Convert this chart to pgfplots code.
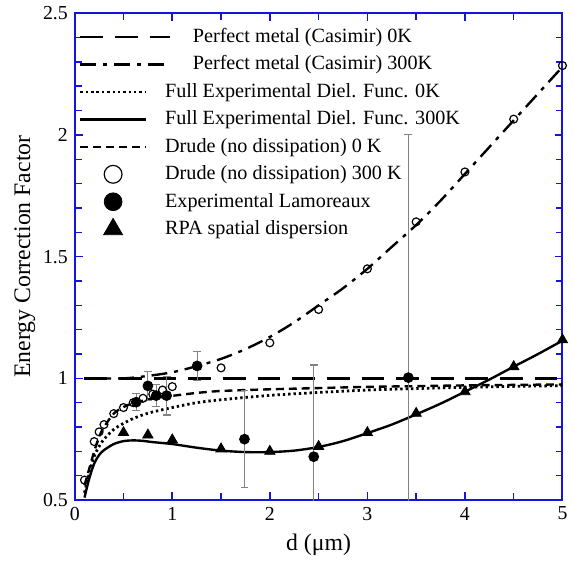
\documentclass[border={4pt 0pt 0pt 0pt}]{standalone}
\usepackage{fontspec}
\setmainfont{Liberation Serif}
\usepackage{pgfplots}
\pgfplotsset{compat=1.18}
\definecolor{axblue}{RGB}{20,20,220}
\definecolor{ebgray}{RGB}{130,130,130}

\pgfplotsset{
  shortline/.style={legend image code/.code={\draw[draw=none] (0pt,0pt) -- (41pt,0pt);\draw[##1] (0pt,0pt) -- (33pt,0pt);}},
  longline/.style={legend image code/.code={\draw[draw=none] (0pt,0pt) -- (41pt,0pt);\draw[##1,overlay] (0pt,0pt) -- (45pt,0pt);}},
  markimg/.style={legend image code/.code={\draw[draw=none] (0pt,0pt) -- (41pt,0pt);\draw[##1,only marks,mark size=#1] plot coordinates {(16.5pt,0pt)};}},
}

\begin{document}
\begin{tikzpicture}
\begin{axis}[
  scale only axis, width=246.5pt, height=246pt,
  xmin=0, xmax=5, ymin=0.5, ymax=2.5,
  xtick={0,1,2,3,4,5}, ytick={0.5,1,1.5,2,2.5},
  minor x tick num=1, minor y tick num=4,
  tick align=inside, tick pos=both,
  axis line style={axblue, line width=1pt},
  every tick/.style={axblue, line width=0.8pt},
  major tick length=4pt, minor tick length=3.5pt,
  /pgf/number format/assume math mode=true,
  tick label style={font=\fontsize{10}{12}\selectfont},
  xlabel={d (μm)}, ylabel={Energy Correction Factor},
  label style={font=\fontsize{12}{14}\selectfont},
  ylabel style={yshift=-3pt},
  legend style={at={(0,1)}, anchor=north west, yshift=-1.5pt, draw=none, fill=none,
    inner xsep=2pt, inner ysep=4pt, row sep=1.7pt,
    font=\fontsize{10.2}{12}\selectfont,
    nodes={inner sep=1.8pt}},
  legend cell align=left,
]
% Perfect metal (Casimir) 0K
\addplot[black, line width=1.2pt, dash pattern=on 11.5pt off 6pt, longline] coordinates {(0.1,1) (5,1)};
\addlegendentry{\hspace{14pt}Perfect metal (Casimir) 0K}
% Perfect metal (Casimir) 300K
\addplot[black, line width=1.2pt, dash pattern=on 8pt off 3.5pt on 2pt off 3.5pt, smooth, longline] coordinates {
(0.1,1.0) (0.5,1.0) (0.75,1.01) (1.0,1.025) (1.25,1.05) (1.5,1.08) (1.75,1.12) (2.0,1.17) (2.25,1.23) (2.5,1.30) (2.75,1.37) (3.0,1.45) (3.25,1.54) (3.5,1.63) (3.75,1.73) (4.0,1.84) (4.25,1.95) (4.5,2.06) (4.75,2.17) (5.0,2.28)};
\addlegendentry{\hspace{14pt}Perfect metal (Casimir) 300K}
% Full Experimental 0K
\addplot[black, line width=1.4pt, dash pattern=on 1.2pt off 1.5pt, smooth, shortline] coordinates {
(0.1,0.53) (0.15,0.61) (0.2,0.68) (0.25,0.72) (0.3,0.75) (0.4,0.79) (0.5,0.815) (0.6,0.835) (0.7,0.85) (0.8,0.862) (1.0,0.88) (1.25,0.9) (1.5,0.912) (2.0,0.93) (2.5,0.942) (3.0,0.952) (3.5,0.958) (4.0,0.963) (4.5,0.967) (5.0,0.97)};
\addlegendentry{Full Experimental Diel. Func. 0K}
% Full Experimental 300K
\addplot[black, line width=1.2pt, solid, smooth, shortline] coordinates {
(0.1,0.51) (0.15,0.59) (0.2,0.65) (0.25,0.685) (0.3,0.705) (0.4,0.73) (0.5,0.742) (0.6,0.745) (0.7,0.743) (0.8,0.738) (1.0,0.73) (1.25,0.715) (1.5,0.703) (1.75,0.697) (2.0,0.697) (2.25,0.703) (2.5,0.718) (2.75,0.742) (3.0,0.775) (3.25,0.81) (3.5,0.852) (3.75,0.896) (4.0,0.945) (4.25,0.995) (4.5,1.048) (4.75,1.1) (5.0,1.155)};
\addlegendentry{Full Experimental Diel. Func. 300K}
% Drude 0K
\addplot[black, line width=1.2pt, dash pattern=on 4pt off 2.5pt, smooth, shortline] coordinates {
(0.1,0.56) (0.15,0.63) (0.2,0.70) (0.25,0.76) (0.3,0.80) (0.4,0.855) (0.5,0.882) (0.6,0.898) (0.7,0.908) (0.8,0.917) (1.0,0.928) (1.25,0.94) (1.5,0.948) (2.0,0.955) (2.5,0.96) (3.0,0.965) (3.5,0.968) (4.0,0.971) (4.5,0.973) (5.0,0.975)};
\addlegendentry{Drude (no dissipation) 0 K}
% Drude 300K
\addplot[only marks, mark=o, mark size=2pt, black, line width=0.6pt, markimg=4.5pt] coordinates {
(0.1,0.582) (0.2,0.74) (0.25,0.78) (0.3,0.81) (0.4,0.855) (0.5,0.88) (0.6,0.9) (0.7,0.918) (0.8,0.935) (0.9,0.952) (1.0,0.966) (1.5,1.043) (2.0,1.146) (2.5,1.283) (3.0,1.45) (3.5,1.643) (4.0,1.848) (4.5,2.065) (5.0,2.285)};
\addlegendentry{Drude (no dissipation) 300 K}
% Experimental Lamoreaux
\addplot[only marks, mark=*, mark size=2.5pt, black, markimg=4.5pt,
  error bars/.cd, y dir=both, y explicit,
  error bar style={ebgray, line width=0.6pt},
  error mark options={rotate=90, mark size=2pt, ebgray, line width=0.6pt}]
  coordinates {
(0.63,0.902) +- (0,0.035)
(0.75,0.969) +- (0,0.06)
(0.835,0.929) +- (0,0.045)
(0.942,0.929) +- (0,0.08)
(1.255,1.051) +- (0,0.06)
(1.74,0.75) +- (0,0.2)
(2.45,0.678) +- (0,0.377)
(3.42,1.003) +- (0,1.0)};
\addlegendentry{Experimental Lamoreaux}
% RPA
\addplot[only marks, mark=triangle*, mark size=3pt, black, markimg=5.5pt] coordinates {
(0.5,0.777) (0.75,0.767) (1.0,0.747) (1.5,0.71) (2.0,0.70) (2.5,0.72) (3.0,0.777) (3.5,0.856) (4.0,0.945) (4.5,1.048) (5.0,1.158)};
\addlegendentry{RPA spatial dispersion}
\end{axis}
\end{tikzpicture}
\end{document}
